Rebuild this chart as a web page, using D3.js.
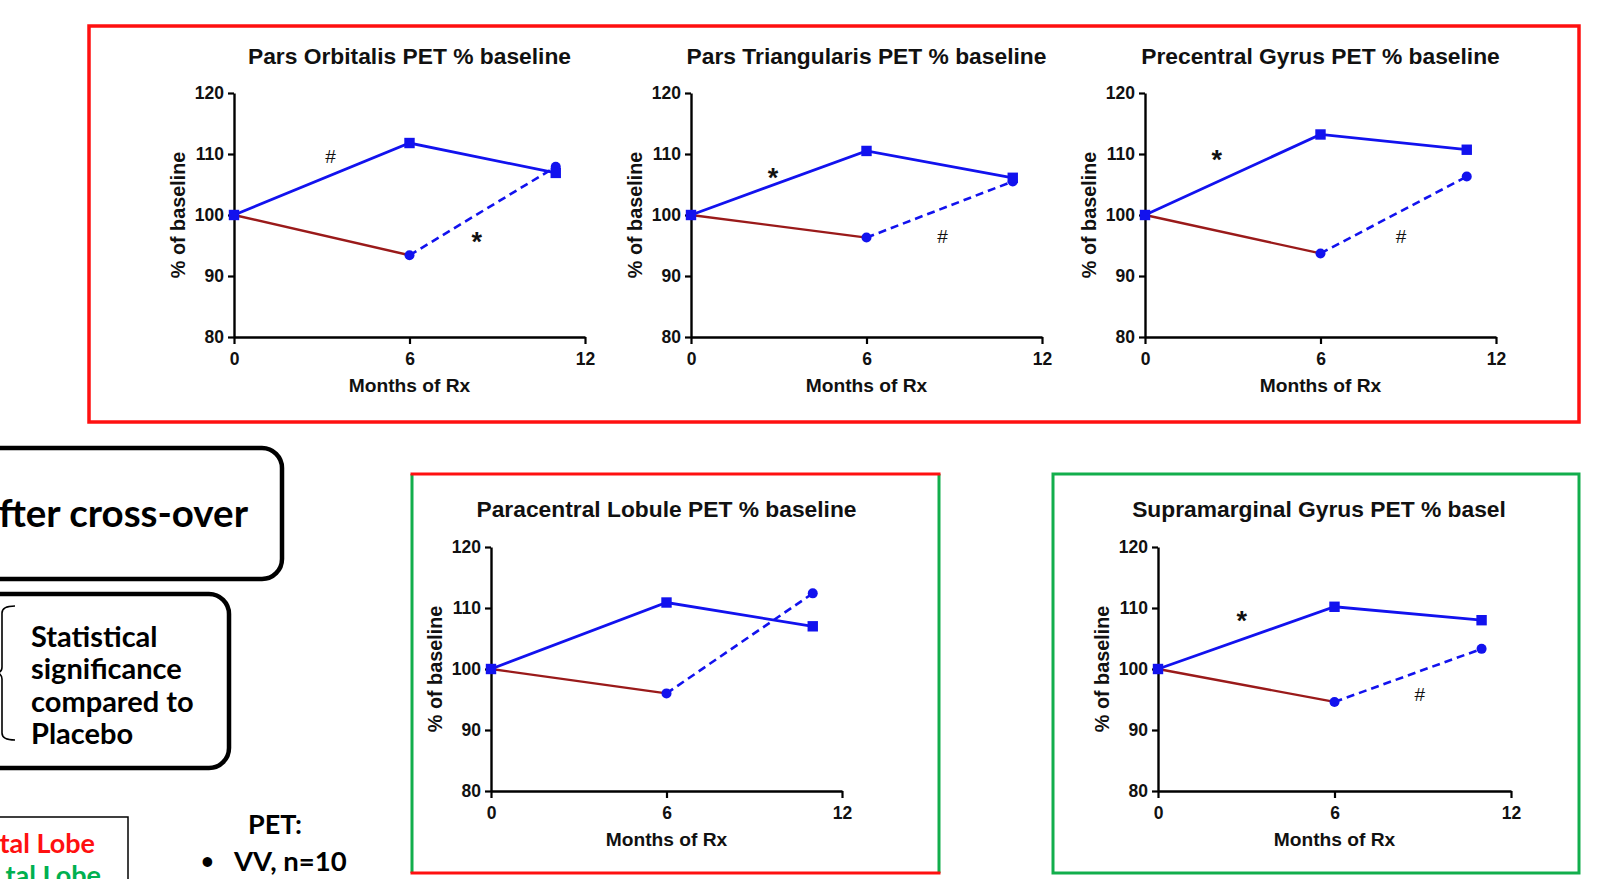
<!DOCTYPE html>
<html><head><meta charset="utf-8">
<script src="https://cdn.jsdelivr.net/npm/d3@7"></script>
<style>body{margin:0;background:#fff;overflow:hidden} svg{display:block}</style>
</head><body><svg id="c" width="1603" height="879"></svg>
<script>
// ---------------- data ----------------
const panelTitles = ["Pars Orbitalis PET % baseline", "Pars Triangularis PET % baseline", "Precentral Gyrus PET % baseline", "Paracentral Lobule PET % baseline", "Supramarginal Gyrus PET % basel"];
const drugMonths = [0, 6, 11];
const placeboMonths = [0, 6];
const crossoverMonths = [6, 11];
const drugValues = [[100, 111.8, 106.9], [100, 110.5, 106.1], [100, 113.2, 110.7], [100, 110.9, 107.0], [100, 110.2, 108.0]];
const placeboValues = [[100, 93.4], [100, 96.3], [100, 93.7], [100, 96.0], [100, 94.6]];
const crossoverValues = [[93.4, 107.9], [96.3, 105.5], [93.7, 106.3], [96.0, 112.4], [94.6, 103.3]];
const annotationSymbols = [["#", "*"], ["*", "#"], ["*", "#"], [], ["*", "#"]];
const annotationMonths = [[3.3, 8.3], [2.8, 8.6], [2.45, 8.75], [], [2.85, 8.9]];
const annotationValues = [[109.7, 96.7], [107.2, 96.6], [110.2, 96.6], [], [109.0, 95.8]];
const xTickValues = [0, 6, 12];
const yTickValues = [80, 90, 100, 110, 120];
const xAxisTitle = "Months of Rx";
const yAxisTitle = "% of baseline";
const boxTitle = "fter cross-over";
const noteLines = ["Statistical", "significance", "compared to", "Placebo"];
const legendLines = ["tal Lobe", "tal Lobe"];
const petHeader = "PET:";
const petItems = ["VV, n=10"];

// ---------------- layout ----------------
const layout = [
  {x0: 234, x1: 585, yTop: 93, yBot: 337, titleX: 409.5, titleY: 64},
  {x0: 691, x1: 1042, yTop: 93, yBot: 337, titleX: 866.5, titleY: 64},
  {x0: 1145, x1: 1496, yTop: 93, yBot: 337, titleX: 1320.5, titleY: 64},
  {x0: 491, x1: 842, yTop: 547, yBot: 791, titleX: 666.5, titleY: 517},
  {x0: 1158, x1: 1511, yTop: 547, yBot: 791, titleX: 1319, titleY: 517}
];
const BLUE = "#1212ee", DRED = "#9a1a1a", RED = "#ff1010", GREEN = "#12ae4c";
const chartFont = "'Liberation Sans', Arial, sans-serif";
const textFont = "Lato, 'Open Sans', sans-serif";

const svg = d3.select("#c");
svg.append("rect").attr("width", 1603).attr("height", 879).attr("fill", "#fff");

// frames
svg.append("rect").attr("x", 89).attr("y", 26).attr("width", 1490).attr("height", 396)
  .attr("fill", "none").attr("stroke", RED).attr("stroke-width", 3.5);
const mf = {l: 412, t: 474, r: 939, b: 873};
svg.append("line").attr("x1", mf.l).attr("x2", mf.l).attr("y1", mf.t).attr("y2", mf.b).attr("stroke", GREEN).attr("stroke-width", 3);
svg.append("line").attr("x1", mf.r).attr("x2", mf.r).attr("y1", mf.t).attr("y2", mf.b).attr("stroke", GREEN).attr("stroke-width", 3);
svg.append("line").attr("x1", mf.l - 1.5).attr("x2", mf.r + 1.5).attr("y1", mf.t).attr("y2", mf.t).attr("stroke", RED).attr("stroke-width", 3);
svg.append("line").attr("x1", mf.l - 1.5).attr("x2", mf.r + 1.5).attr("y1", mf.b).attr("y2", mf.b).attr("stroke", RED).attr("stroke-width", 3);
svg.append("rect").attr("x", 1053).attr("y", 474).attr("width", 526).attr("height", 399)
  .attr("fill", "none").attr("stroke", GREEN).attr("stroke-width", 3);

// ---------------- panels ----------------
layout.forEach((L, i) => {
  const x = d3.scaleLinear().domain([0, 12]).range([L.x0, L.x1]);
  const y = d3.scaleLinear().domain([80, 120]).range([L.yBot, L.yTop]);
  const g = svg.append("g");

  g.append("text").attr("x", L.titleX).attr("y", L.titleY).attr("text-anchor", "middle")
    .attr("font-family", chartFont).attr("font-weight", "bold").attr("font-size", 22.8)
    .attr("fill", "#111").text(panelTitles[i]);

  const ya = g.append("g").attr("transform", `translate(${L.x0},0)`)
    .call(d3.axisLeft(y).tickValues(yTickValues).tickSize(6).tickSizeOuter(0).tickPadding(4));
  const xa = g.append("g").attr("transform", `translate(0,${L.yBot})`)
    .call(d3.axisBottom(x).tickValues(xTickValues).tickSize(7).tickSizeOuter(0).tickPadding(9));
  [ya, xa].forEach(a => {
    a.select(".domain").attr("stroke", "#000").attr("stroke-width", 2.4);
    a.selectAll(".tick line").attr("stroke", "#000").attr("stroke-width", 2.2);
    a.selectAll(".tick text").attr("font-family", chartFont).attr("font-weight", "bold")
      .attr("font-size", 17.5).attr("fill", "#111");
  });

  g.append("text").attr("x", (L.x0 + L.x1) / 2).attr("y", L.yBot + 55).attr("text-anchor", "middle")
    .attr("font-family", chartFont).attr("font-weight", "bold").attr("font-size", 19.2)
    .attr("fill", "#111").text(xAxisTitle);
  g.append("text").attr("transform", `translate(${L.x0 - 56},${(L.yTop + L.yBot) / 2}) rotate(-90)`)
    .attr("text-anchor", "middle").attr("dominant-baseline", "central")
    .attr("font-family", chartFont).attr("font-weight", "bold").attr("font-size", 19.8)
    .attr("fill", "#111").text(yAxisTitle);

  const line = d3.line().x(d => x(d[0])).y(d => y(d[1]));
  const plac = placeboMonths.map((m, k) => [m, placeboValues[i][k]]);
  const drug = drugMonths.map((m, k) => [m, drugValues[i][k]]);
  const cross = crossoverMonths.map((m, k) => [m, crossoverValues[i][k]]);

  g.append("path").attr("d", line(plac)).attr("fill", "none").attr("stroke", DRED).attr("stroke-width", 2.4);
  g.append("path").attr("d", line(cross)).attr("fill", "none").attr("stroke", BLUE).attr("stroke-width", 2.6)
    .attr("stroke-dasharray", "8,5");
  g.append("path").attr("d", line(drug)).attr("fill", "none").attr("stroke", BLUE).attr("stroke-width", 2.8);

  g.selectAll("circle.c").data(cross).join("circle")
    .attr("cx", d => x(d[0])).attr("cy", d => y(d[1])).attr("r", 5).attr("fill", BLUE);
  g.selectAll("rect.s").data(drug).join("rect")
    .attr("x", d => x(d[0]) - 5.2).attr("y", d => y(d[1]) - 5.2).attr("width", 10.4).attr("height", 10.4).attr("fill", BLUE);

  annotationSymbols[i].forEach((s, k) => {
    const star = s === "*";
    const fs = star ? 27 : 19;
    const off = star ? 0.6 : 0.36;
    g.append("text").attr("x", x(annotationMonths[i][k])).attr("y", y(annotationValues[i][k]) + off * fs)
      .attr("text-anchor", "middle").attr("font-family", chartFont).attr("font-size", fs)
      .attr("font-weight", star ? "bold" : "normal").attr("fill", "#111").text(s);
  });
});

// ---------------- left-side notes ----------------
svg.append("rect").attr("x", -40).attr("y", 448).attr("width", 322).attr("height", 131).attr("rx", 20)
  .attr("fill", "none").attr("stroke", "#000").attr("stroke-width", 4.5);
svg.append("text").attr("x", 248).attr("y", 527).attr("text-anchor", "end")
  .attr("font-family", textFont).attr("font-weight", "bold").attr("font-size", 38.5).attr("fill", "#000").text(boxTitle);

svg.append("rect").attr("x", -40).attr("y", 594).attr("width", 269).attr("height", 174).attr("rx", 20)
  .attr("fill", "none").attr("stroke", "#000").attr("stroke-width", 4.5);
svg.append("path").attr("d", "M15,606 Q2,606 2,613 L2,667 Q2,673 -5,673 Q2,673 2,679 L2,733 Q2,740 15,740")
  .attr("fill", "none").attr("stroke", "#000").attr("stroke-width", 1.6);
svg.append("g").selectAll("text").data(noteLines).join("text")
  .attr("x", 31).attr("y", (d, k) => 647 + k * 32.4)
  .attr("font-family", textFont).attr("font-weight", "bold").attr("font-size", 29).attr("fill", "#000").text(d => d);

svg.append("rect").attr("x", -10).attr("y", 817).attr("width", 138).attr("height", 100)
  .attr("fill", "none").attr("stroke", "#000").attr("stroke-width", 1.5);
svg.append("text").attr("x", 95).attr("y", 853).attr("text-anchor", "end")
  .attr("font-family", textFont).attr("font-weight", "bold").attr("font-size", 27).attr("fill", RED).text(legendLines[0]);
svg.append("text").attr("x", 101).attr("y", 885).attr("text-anchor", "end")
  .attr("font-family", textFont).attr("font-weight", "bold").attr("font-size", 27).attr("fill", "#00b050").text(legendLines[1]);

svg.append("text").attr("x", 248).attr("y", 834)
  .attr("font-family", textFont).attr("font-weight", "bold").attr("font-size", 27).attr("fill", "#000").text(petHeader);
svg.append("text").attr("x", 201).attr("y", 869)
  .attr("font-family", textFont).attr("font-weight", "bold").attr("font-size", 22).attr("fill", "#000").text("•");
svg.append("text").attr("x", 234).attr("y", 871)
  .attr("font-family", textFont).attr("font-weight", "bold").attr("font-size", 27.5).attr("fill", "#000").text(petItems[0]);
</script></body></html>
